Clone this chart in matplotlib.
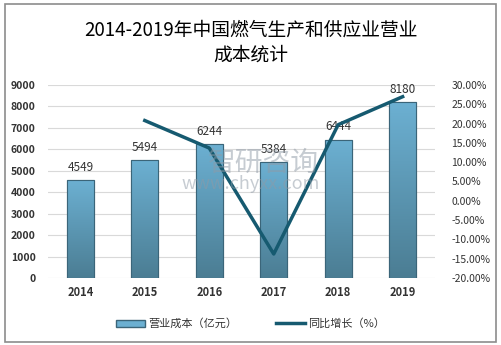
import matplotlib.pyplot as plt
import matplotlib.patches as patches
import numpy as np

plt.rcParams['font.family'] = ['Noto Sans CJK SC', 'DejaVu Sans']

years = ['2014', '2015', '2016', '2017', '2018', '2019']
cost = [4549, 5494, 6244, 5384, 6444, 8180]
growth_years = ['2015', '2016', '2017', '2018', '2019']
growth = [20.77, 13.65, -13.77, 19.69, 26.94]

left_ticks = list(range(0, 10000, 1000))
right_ticks = list(range(-20, 35, 5))

BAR_TOP = '#6cb0d2'
BAR_BOTTOM = '#4b7d93'
LINE_COLOR = '#165a70'
TEXT = '#333333'

fig = plt.figure(figsize=(5.01, 3.45), dpi=100)
fig.patches.append(patches.Rectangle((0.01, 0.008), 0.98, 0.98, transform=fig.transFigure,
                                     fill=False, edgecolor='#8c8c8c', linewidth=1.2))

fig.text(0.5, 0.877, '2014-2019年中国燃气生产和供应业营业\n成本统计', ha='center', va='center',
         fontsize=13.5, linespacing=1.25, color='black')

ax = fig.add_axes([0.096, 0.194, 0.772, 0.56])
x = np.arange(len(years))
bars = ax.bar(x, cost, width=0.42, color=BAR_TOP, edgecolor='#3b6579', linewidth=0.8, zorder=2)

# vertical gradient inside each bar
grad = np.linspace(0, 1, 256).reshape(-1, 1)
cmap = plt.matplotlib.colors.LinearSegmentedColormap.from_list('g', [BAR_BOTTOM, BAR_TOP])
for b in bars:
    x0, w, h = b.get_x(), b.get_width(), b.get_height()
    im = ax.imshow(grad, cmap=cmap, extent=[x0, x0 + w, 0, h], origin='lower',
                   aspect='auto', zorder=2.1)
    im.set_clip_path(b)
    ax.add_patch(patches.Rectangle((x0, 0), w, h, fill=False, edgecolor='#3b6579',
                                   linewidth=0.8, zorder=2.2))

for xi, v in zip(x, cost):
    ax.text(xi, v + 300, str(v), ha='center', va='bottom', fontsize=8.5, color=TEXT)

ax.set_xlim(-0.5, len(years) - 0.5)
ax.set_ylim(0, 9000)
ax.set_yticks(left_ticks)
ax.set_xticks(x)
ax.set_xticklabels(years, fontweight='bold', fontsize=8, color=TEXT)
ax.set_yticklabels([str(t) for t in left_ticks], fontweight='bold', fontsize=7.5, color=TEXT)
ax.tick_params(length=0, pad=9)
ax.tick_params(axis='x', pad=6)
ax.grid(axis='y', color='#d9d9d9', linewidth=0.8, zorder=0)
ax.set_axisbelow(True)
for s in ax.spines.values():
    s.set_visible(False)

ax2 = ax.twinx()
gx = [years.index(y) for y in growth_years]
ax2.plot(gx, growth, color=LINE_COLOR, linewidth=2.5, zorder=3)
ax2.set_ylim(-20, 30)
ax2.set_yticks(right_ticks)
ax2.set_yticklabels(['%.2f%%' % t for t in right_ticks], fontsize=7.5, color=TEXT)
ax2.tick_params(length=0, pad=12)
for s in ax2.spines.values():
    s.set_visible(False)

# watermark
fig.text(0.415, 0.527, '智研咨询', fontsize=20, color='#8f9aa6', alpha=0.5, ha='left', va='center')
fig.text(0.363, 0.468, 'www.chyxx.com', fontsize=13, color='#8f9aa6', alpha=0.5, ha='left', va='center')

handles = [patches.Patch(facecolor=BAR_TOP, edgecolor='#3b6579'),
           plt.Line2D([], [], color=LINE_COLOR, linewidth=2.5)]
fig.legend(handles, ['营业成本（亿元）', '同比增长（%）'], loc='center', bbox_to_anchor=(0.5, 0.062),
           ncol=2, frameon=False, fontsize=8, handlelength=2.6, handleheight=0.6,
           columnspacing=3.5, handletextpad=0.3, labelcolor=TEXT)

fig.savefig('out.png', dpi=100)
